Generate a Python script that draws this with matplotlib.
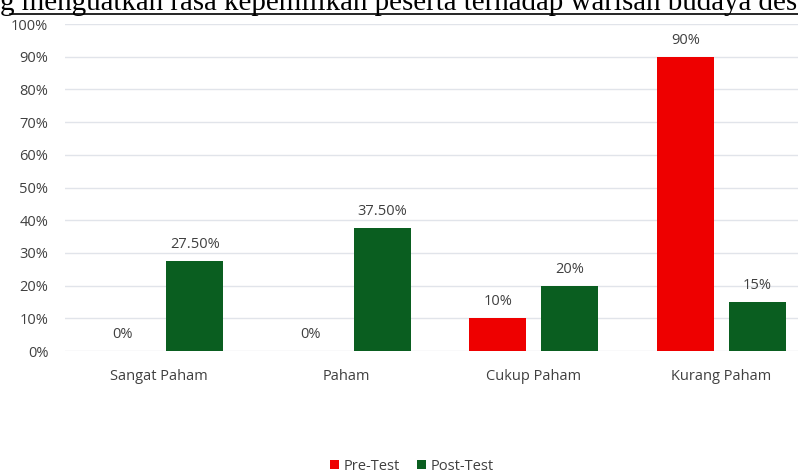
import matplotlib.pyplot as plt
import numpy as np

# Data
categories = ['Sangat Paham', 'Paham', 'Cukup Paham', 'Kurang Paham']
pre_test = np.array([0, 0, 10, 90])
post_test = np.array([27.5, 37.5, 20, 15])
pre_labels = ['0%', '0%', '10%', '90%']
post_labels = ['27.50%', '37.50%', '20%', '15%']

red = '#EE0000'
green = '#0A5E20'
text_col = '#404040'
plt.rcParams['font.family'] = ['Open Sans', 'DejaVu Sans']

fig = plt.figure(figsize=(7.98, 4.73), dpi=100)
# axes run past the right edge, the reference is cropped there
ax = fig.add_axes([65 / 798, 122 / 473, 750 / 798, 327 / 473])

x = np.arange(len(categories))
w = 0.305
off = 0.192
b1 = ax.bar(x - off, pre_test, w, color=red, label='Pre-Test')
b2 = ax.bar(x + off, post_test, w, color=green, label='Post-Test')

for xi, v, s in zip(x - off, pre_test, pre_labels):
    ax.text(xi, v + 4, s, ha='center', va='baseline', fontsize=10.5, color=text_col)
for xi, v, s in zip(x + off, post_test, post_labels):
    ax.text(xi, v + 4, s, ha='center', va='baseline', fontsize=10.5, color=text_col)

ax.set_xlim(-0.5, 3.5)
ax.set_ylim(0, 100)
ax.set_yticks(np.arange(0, 101, 10))
ax.set_yticklabels([f'{t}%' for t in range(0, 101, 10)], fontsize=10.5, color=text_col)
ax.set_xticks(x)
ax.set_xticklabels(categories, fontsize=10.5, color=text_col)
ax.tick_params(axis='y', length=0, pad=12)
ax.tick_params(axis='x', length=0, pad=13)
ax.grid(axis='y', color='#E1E4EA', linewidth=1)
ax.set_axisbelow(True)
for sp in ax.spines.values():
    sp.set_visible(False)

fig.legend(handles=[b1, b2], loc='center', bbox_to_anchor=(412 / 798, 1 - 466 / 473),
           ncol=2, frameon=False, fontsize=10.5, handlelength=0.6, handleheight=0.6,
           handletextpad=0.3, columnspacing=1.2, labelcolor=text_col)

# cropped document text above the chart
fig.text(0, 1 - 10 / 473, 'g menguatkan rasa kepemilikan peserta terhadap warisan budaya des',
         family='Liberation Serif', fontsize=20.9, va='baseline', ha='left', color='black')
fig.add_artist(plt.Line2D([10 / 798, 1], [1 - 14 / 473] * 2, color='black', linewidth=1.2,
                          transform=fig.transFigure))

plt.savefig('out.png', dpi=100)
